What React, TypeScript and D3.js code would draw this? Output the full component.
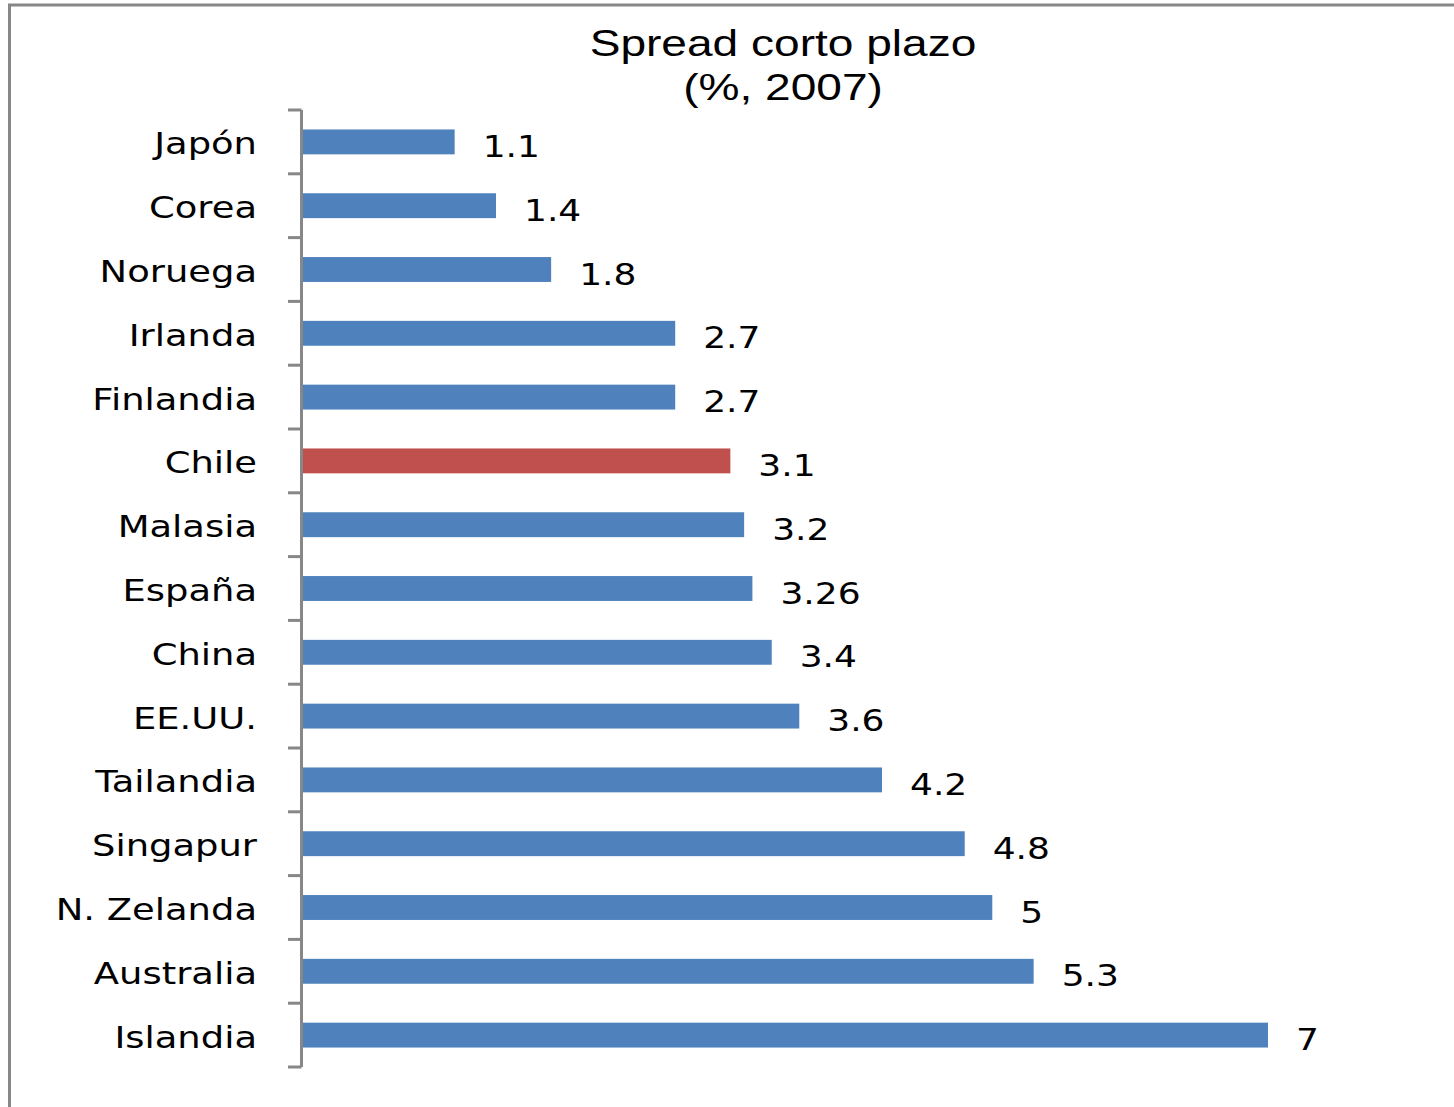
import React from "react";
import * as d3 from "d3";

const categories = ["Japón","Corea","Noruega","Irlanda","Finlandia","Chile","Malasia","España","China","EE.UU.","Tailandia","Singapur","N. Zelanda","Australia","Islandia"];
const values = [1.1,1.4,1.8,2.7,2.7,3.1,3.2,3.26,3.4,3.6,4.2,4.8,5,5.3,7];
const valueLabels = ["1.1","1.4","1.8","2.7","2.7","3.1","3.2","3.26","3.4","3.6","4.2","4.8","5","5.3","7"];
const highlight = ["Chile"];
const titleLines = ["Spread corto plazo","(%, 2007)"];

const W = 1454, H = 1107;
const BLUE = "#4F81BD", RED = "#C0504D", GRAY = "#878787";

function StretchText({x, y, sx, anchor, size, family, children}: any) {
  return (
    <g transform={`translate(${x},${y}) scale(${sx},1)`}>
      <text x={0} y={0} textAnchor={anchor} fontSize={size} fontFamily={family} fill="#000">{children}</text>
    </g>
  );
}

export default function App() {
  const x = d3.scaleLinear().domain([0, 7]).range([303, 1268]);
  const y = d3.scaleBand<string>().domain(categories).range([110, 1067]).paddingInner(0.61).paddingOuter(0.305);
  const step = y.step();
  const top = 110;
  const ticks = d3.range(categories.length + 1).map(i => top + i * step);
  const lab = "'DejaVu Sans', Verdana, sans-serif";
  return (
    <svg width={W} height={H} style={{position: "absolute", left: 0, top: 0, display: "block"}}>
      <rect x={0} y={0} width={W} height={H} fill="#fff" />
      <rect x={9.5} y={5} width={1500} height={1200} fill="none" stroke={GRAY} strokeWidth={3} />
      {titleLines.map((t, i) => (
        <StretchText key={t} x={783} y={56 + i * 44} sx={1.28} anchor="middle" size={36} family="'Liberation Sans', Arial, sans-serif">{t}</StretchText>
      ))}
      {categories.map((c, i) => {
        const yc = (y(c) as number) + y.bandwidth() / 2;
        return (
          <g key={c}>
            <rect x={x(0)} y={y(c)} width={x(values[i]) - x(0)} height={y.bandwidth()} fill={highlight.includes(c) ? RED : BLUE} />
            <StretchText x={257} y={yc + 12.5} sx={1.23} anchor="end" size={30} family={lab}>{c}</StretchText>
            <StretchText x={x(values[i]) + 28} y={yc + 15} sx={1.2} anchor="start" size={30} family={lab}>{valueLabels[i]}</StretchText>
          </g>
        );
      })}
      <line x1={301.5} x2={301.5} y1={top} y2={top + step * categories.length} stroke={GRAY} strokeWidth={3} />
      {ticks.map((t, i) => (
        <line key={i} x1={288} x2={301.5} y1={t} y2={t} stroke={GRAY} strokeWidth={3} />
      ))}
    </svg>
  );
}
